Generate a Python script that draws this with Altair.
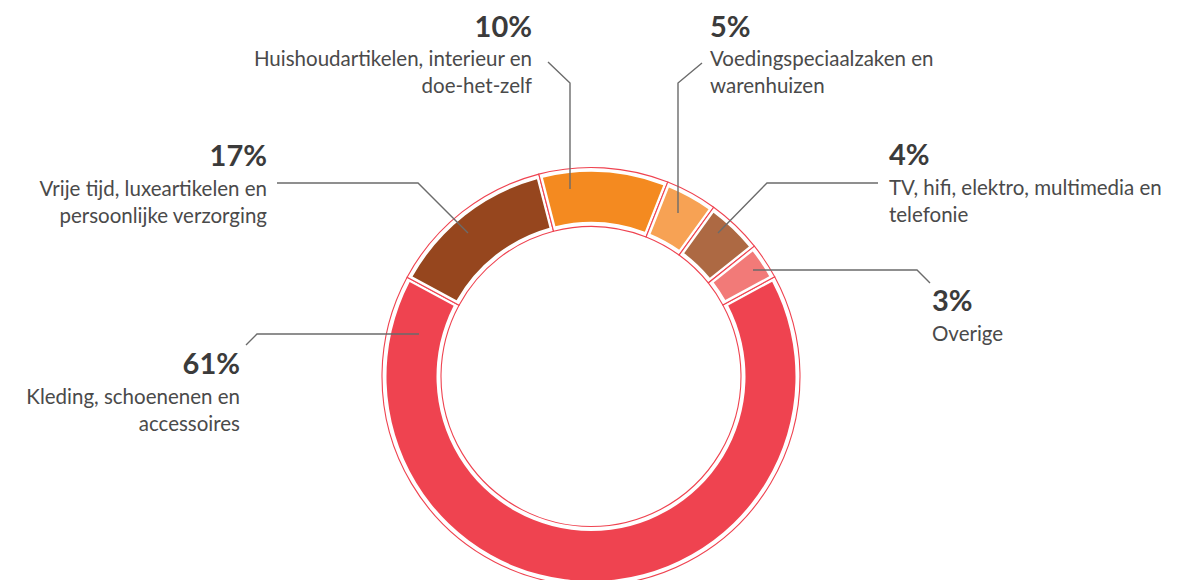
import math
import altair as alt
import pandas as pd

# ---- data ----
categories = [
    "Kleding, schoenenen en accessoires",
    "Vrije tijd, luxeartikelen en persoonlijke verzorging",
    "Huishoudartikelen, interieur en doe-het-zelf",
    "Voedingspeciaalzaken en warenhuizen",
    "TV, hifi, elektro, multimedia en telefonie",
    "Overige",
]
# arc shares as drawn in the picture (percent of the ring)
shares = [65.8, 13.1, 10.0, 4.0, 4.3, 2.8]
pct_labels = ["61%", "17%", "10%", "5%", "4%", "3%"]
desc_lines = [
    ["Kleding, schoenenen en", "accessoires"],
    ["Vrije tijd, luxeartikelen en", "persoonlijke verzorging"],
    ["Huishoudartikelen, interieur en", "doe-het-zelf"],
    ["Voedingspeciaalzaken en", "warenhuizen"],
    ["TV, hifi, elektro, multimedia en", "telefonie"],
    ["Overige"],
]
colors = ["#EF4350", "#96461E", "#F48A20", "#F7A254", "#AD6943", "#F27A78"]

# ---- layout (pixels) ----
W, H = 1161, 572
CX, CY = 583, 368.5
START = math.radians(61.5)
label_align = ["right", "right", "right", "left", "left", "left"]
label_x = [232, 259, 524, 702, 881, 924]
label_y = [366, 158, 29, 29, 157, 303]
LINE_GAP = 27
DESC_OFFSET = [30, 30, 29, 29, 30, 30]
leaders = [
    [(238, 337), (249, 326), (411, 326)],
    [(269, 175), (410, 175), (460, 225)],
    [(540, 54), (562, 75), (562, 181)],
    [(694, 55), (670, 75), (670, 205)],
    [(870, 175), (759, 175), (710, 225)],
    [(745, 262), (909, 262), (922, 275)],
]

arc_df = pd.DataFrame({"cat": categories, "share": shares, "idx": list(range(len(categories)))})

theta = alt.Theta("share:Q", stack=True,
                  scale=alt.Scale(range=[START, START + 2 * math.pi]))

outline = alt.Chart(arc_df).mark_arc(
    outerRadius=209, innerRadius=150, fill="white", stroke="#EF4350", strokeWidth=1.1
).encode(theta=theta, order=alt.Order("idx:Q"), x=alt.value(CX), y=alt.value(CY))

ring = alt.Chart(arc_df).mark_arc(
    outerRadius=204.5, innerRadius=154.5, padAngle=0.024
).encode(
    theta=theta,
    order=alt.Order("idx:Q"),
    color=alt.Color("cat:N", scale=alt.Scale(domain=categories, range=colors), legend=None),
    x=alt.value(CX), y=alt.value(CY),
)

pct_rows, desc_rows, lead_rows = [], [], []
for i, cat in enumerate(categories):
    pct_rows.append({"x": label_x[i], "y": label_y[i], "t": pct_labels[i], "al": label_align[i]})
    for j, line in enumerate(desc_lines[i]):
        desc_rows.append({"x": label_x[i], "y": label_y[i] + DESC_OFFSET[i] + j * LINE_GAP,
                          "t": line, "al": label_align[i]})
    for k, (px, py) in enumerate(leaders[i]):
        lead_rows.append({"id": i, "k": k, "x": px, "y": py})

pct_df = pd.DataFrame(pct_rows)
desc_df = pd.DataFrame(desc_rows)
lead_df = pd.DataFrame(lead_rows)

X = lambda: alt.X("x:Q", scale=None, axis=None)
Y = lambda: alt.Y("y:Q", scale=None, axis=None)

lines = alt.Chart(lead_df).mark_line(color="#6b6b6b", strokeWidth=1.4).encode(
    x=X(), y=Y(), detail="id:N", order="k:Q")

layers = [outline, ring, lines]
for al in ["left", "right"]:
    layers.append(alt.Chart(pct_df[pct_df.al == al]).mark_text(
        align=al, baseline="alphabetic", font="Lato", fontSize=29, fontWeight="bold",
        color="#3b3b3b").encode(x=X(), y=Y(), text="t:N"))
    layers.append(alt.Chart(desc_df[desc_df.al == al]).mark_text(
        align=al, baseline="alphabetic", font="Lato", fontSize=20.5,
        color="#4a4a4a").encode(x=X(), y=Y(), text="t:N"))

chart = alt.layer(*layers).properties(
    width=W, height=H, padding=0, autosize=alt.AutoSizeParams(type="none")
).configure_view(stroke=None)

chart.save("out.html", embed_options={"renderer": "svg", "actions": False})
